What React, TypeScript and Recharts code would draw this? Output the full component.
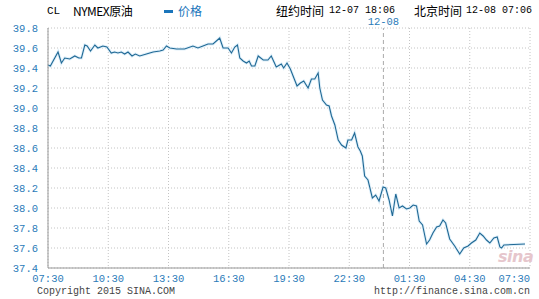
import {
  LineChart,
  Line,
  XAxis,
  YAxis,
  CartesianGrid,
  ReferenceLine,
} from 'recharts'

const times = [
  '07:30', '07:37', '08:00', '08:10', '08:20', '08:35', '08:50', '09:02', '09:10', '09:20',
  '09:27', '09:37', '09:50', '09:59', '10:14', '10:26', '10:39', '10:49', '10:59', '11:09',
  '11:19', '11:29', '11:41', '11:51', '12:04', '12:24', '12:44', '13:04', '13:14', '13:24',
  '13:34', '13:54', '14:18', '14:43', '14:58', '15:13', '15:28', '15:43', '16:03', '16:13',
  '16:28', '16:38', '16:48', '16:56', '17:03', '17:13', '17:23', '17:31', '17:38', '17:48',
  '17:58', '18:13', '18:27', '18:37', '18:52', '19:07', '19:14', '19:24', '19:34', '19:54',
  '20:04', '20:14', '20:27', '20:37', '20:47', '20:57', '21:02', '21:10', '21:22', '21:30',
  '21:37', '21:47', '21:57', '22:07', '22:20', '22:26', '22:37', '22:46', '22:56', '23:03',
  '23:09', '23:16', '23:26', '23:39', '23:49', '23:59', '00:11', '00:19', '00:29', '00:39',
  '00:49', '00:59', '01:09', '01:21', '01:31', '01:41', '01:51', '01:59', '02:09', '02:21',
  '02:30', '02:40', '02:51', '03:00', '03:10', '03:18', '03:30', '03:45', '04:00', '04:12',
  '04:25', '04:35', '04:48', '05:00', '05:10', '05:20', '05:30', '05:42', '05:52', '06:00',
  '06:05', '06:12', '07:15',
]

const prices = [
  39.43, 39.42, 39.56, 39.45, 39.5, 39.49, 39.52, 39.5, 39.5, 39.63,
  39.62, 39.57, 39.63, 39.6, 39.62, 39.61, 39.55, 39.56, 39.55, 39.56,
  39.54, 39.56, 39.52, 39.54, 39.52, 39.54, 39.56, 39.57, 39.58, 39.62,
  39.6, 39.59, 39.59, 39.62, 39.6, 39.62, 39.64, 39.64, 39.7, 39.6,
  39.6, 39.55, 39.61, 39.63, 39.5, 39.47, 39.45, 39.47, 39.42, 39.42,
  39.52, 39.48, 39.48, 39.52, 39.41, 39.44, 39.4, 39.45, 39.39, 39.22,
  39.25, 39.27, 39.2, 39.29, 39.29, 39.35, 39.2, 39.08, 39.03, 39.02,
  38.92, 38.83, 38.68, 38.63, 38.6, 38.68, 38.68, 38.75, 38.61, 38.57,
  38.52, 38.32, 38.28, 38.1, 38.13, 38.07, 38.21, 38.2, 38.08, 37.92,
  38.14, 38.0, 38.02, 37.99, 38.0, 38.03, 38.02, 37.87, 37.83, 37.64,
  37.68, 37.75, 37.81, 37.82, 37.88, 37.85, 37.69, 37.62, 37.54, 37.6,
  37.62, 37.65, 37.68, 37.75, 37.72, 37.68, 37.65, 37.7, 37.71, 37.61,
  37.6, 37.63, 37.64,
]

const xTickLabels = ['07:30', '10:30', '13:30', '16:30', '19:30', '22:30', '01:30', '04:30', '07:30']
const yTicks = [37.4, 37.6, 37.8, 38.0, 38.2, 38.4, 38.6, 38.8, 39.0, 39.2, 39.4, 39.6, 39.8]
const dateBreakTime = '00:12'

// minutes since 07:30 of the first day
function toOffset(t: string) {
  const [h, m] = t.split(':').map(Number)
  return (h * 60 + m - 450 + 1440) % 1440
}

const data = times.map((t, i) => ({ t: toOffset(t), price: prices[i] }))
const xTicks = xTickLabels.map((_, i) => i * 180)

const TICK = '#2b7bb9'
const MONO = '"Liberation Mono", "DejaVu Sans Mono", monospace'
const CJK = '"Noto Sans CJK SC", sans-serif'

function XTick({ x, y, payload, index }: any) {
  const last = index === xTickLabels.length - 1
  return (
    <text
      x={x}
      y={y + 6}
      textAnchor={last ? 'end' : 'middle'}
      fontSize={10.5}
      fontFamily={MONO}
      fill={TICK}
    >
      {xTickLabels[Math.round(payload.value / 180)]}
    </text>
  )
}

export default function App() {
  return (
    <div style={{ position: 'absolute', left: 0, top: 0, width: 539, height: 299, background: '#fff' }}>
      <div style={{ position: 'absolute', top: 3, left: 0, width: 539, height: 16, fontSize: 12, fontFamily: CJK, color: '#000', lineHeight: '16px' }}>
        <span style={{ position: 'absolute', left: 47, fontFamily: MONO, fontSize: 11 }}>CL</span>
        <span style={{ position: 'absolute', left: 73, letterSpacing: -0.5 }}>NYMEX原油</span>
        <span style={{ position: 'absolute', left: 164, top: 7, width: 9, height: 3, background: '#1a75bb' }} />
        <span style={{ position: 'absolute', left: 178, color: '#1a75bb' }}>价格</span>
        <span style={{ position: 'absolute', left: 276 }}>纽约时间</span>
        <span style={{ position: 'absolute', left: 329, fontFamily: MONO, fontSize: 10 }}>12-07 18:06</span>
        <span style={{ position: 'absolute', left: 414 }}>北京时间</span>
        <span style={{ position: 'absolute', left: 466, fontFamily: MONO, fontSize: 10 }}>12-08 07:06</span>
      </div>
      <LineChart width={539} height={299} data={data} margin={{ top: 28, right: 9, left: 0, bottom: 0 }}>
        <CartesianGrid stroke="#c4c4c4" strokeDasharray="1 2" />
        <XAxis
          dataKey="t"
          type="number"
          domain={[0, 1440]}
          ticks={xTicks}
          interval={0}
          tick={<XTick />}
          tickLine={false}
          axisLine={{ stroke: '#999' }}
          height={31}
        />
        <XAxis xAxisId="top" orientation="top" dataKey="t" type="number" domain={[0, 1440]} tick={false} tickLine={false} axisLine={{ stroke: '#999' }} height={0} />
        <YAxis
          domain={[37.4, 39.8]}
          ticks={yTicks}
          interval={0}
          tickFormatter={(v: number) => v.toFixed(1)}
          tick={{ fontSize: 10.5, fontFamily: MONO, fill: TICK }}
          tickLine={false}
          axisLine={{ stroke: '#999' }}
          tickMargin={4}
          width={48}
        />
        <YAxis yAxisId="right" orientation="right" domain={[37.4, 39.8]} tick={false} tickLine={false} axisLine={{ stroke: '#c8c8c8' }} width={0} />
        <ReferenceLine
          x={toOffset(dateBreakTime)}
          stroke="#aaa"
          strokeDasharray="4 3"
          label={{ value: '12-08', position: 'top', fill: TICK, fontSize: 10.5, fontFamily: MONO, offset: 3 }}
        />
        <Line dataKey="price" stroke="#e0f0fa" strokeWidth={3} dot={false} isAnimationActive={false} />
        <Line dataKey="price" stroke="#1f6894" strokeWidth={1.1} dot={false} isAnimationActive={false} />
      </LineChart>
      <div style={{ position: 'absolute', left: 498, top: 247, fontFamily: '"DejaVu Sans", sans-serif', fontStyle: 'italic', fontWeight: 'bold', fontSize: 16, color: '#e6c6cc', letterSpacing: -0.5 }}>
        sina
      </div>
      <div style={{ position: 'absolute', left: 37, top: 286, fontFamily: MONO, fontSize: 10, color: '#444', lineHeight: '11px' }}>
        Copyright 2015 SINA.COM
      </div>
      <div style={{ position: 'absolute', left: 374, top: 286, fontFamily: MONO, fontSize: 10, color: '#444', lineHeight: '11px' }}>
        http://finance.sina.com.cn
      </div>
    </div>
  )
}
